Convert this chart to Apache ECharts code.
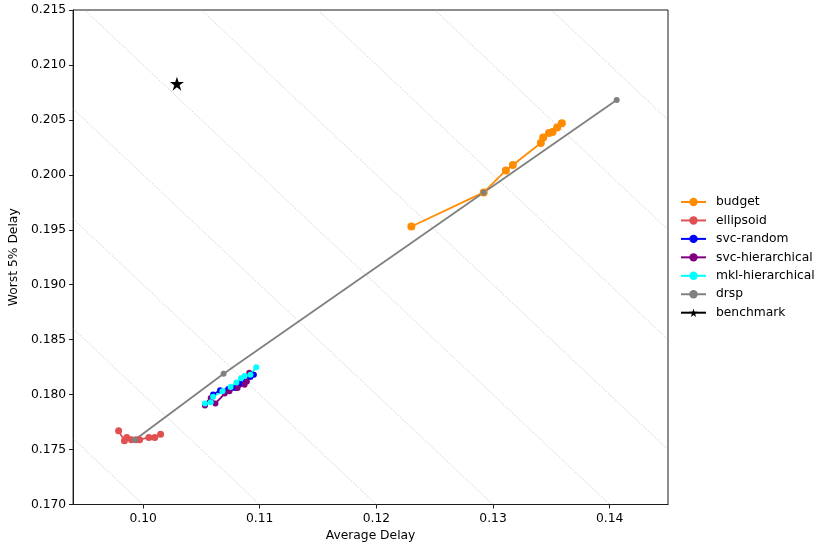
<!DOCTYPE html>
<html>
<head>
<meta charset="utf-8">
<script src="https://cdn.jsdelivr.net/npm/echarts@6/dist/echarts.min.js"></script>
<style>
  html, body { margin: 0; padding: 0; background: #fff; }
  #chart { width: 817px; height: 550px; }
</style>
</head>
<body>
<div id="chart"></div>
<script>
// Trade-off curves: average delay (x) vs worst-5% delay (y) per method.
const budget = [
  [0.1230, 0.1953], [0.1292, 0.1984], [0.1311, 0.2004], [0.1317, 0.2009],
  [0.1341, 0.2029], [0.1343, 0.2034], [0.1348, 0.2038], [0.1351, 0.2039],
  [0.1355, 0.2043], [0.1359, 0.2047]
];
const ellipsoid = [
  [0.0979, 0.1767], [0.0984, 0.1758], [0.0986, 0.1761], [0.0990, 0.1759],
  [0.0994, 0.1759], [0.0997, 0.1759], [0.1005, 0.1761], [0.1010, 0.1761],
  [0.1015, 0.1764]
];
const svcRandom = [
  [0.1053, 0.1791], [0.1060, 0.1800], [0.1066, 0.1804], [0.1073, 0.1805],
  [0.1079, 0.1806], [0.1083, 0.1810], [0.1088, 0.1812], [0.1092, 0.1816],
  [0.1095, 0.1818]
];
const svcHierarchical = [
  [0.1053, 0.1790], [0.1058, 0.1797], [0.1062, 0.1792], [0.1070, 0.1801],
  [0.1074, 0.1803], [0.1081, 0.1806], [0.1087, 0.1809], [0.1089, 0.1812],
  [0.1091, 0.1820]
];
const mklHierarchical = [
  [0.1053, 0.1792], [0.1058, 0.1793], [0.1060, 0.1798], [0.1068, 0.1803],
  [0.1075, 0.1807], [0.1080, 0.1811], [0.1084, 0.1815], [0.1087, 0.1817],
  [0.1092, 0.1818], [0.1097, 0.1825]
];
const drsp = [
  [0.0993, 0.1759], [0.1069, 0.1819], [0.1292, 0.1984], [0.1406, 0.2068]
];
const benchmark = [[0.1029, 0.2083]];

// Iso-lines of constant (average + worst) delay
const isoLevels = [0.26, 0.27, 0.28, 0.29, 0.30, 0.31, 0.32, 0.33, 0.34, 0.35, 0.36, 0.37];

const xTicks = [0.10, 0.11, 0.12, 0.13, 0.14];
const yTicks = [0.170, 0.175, 0.180, 0.185, 0.190, 0.195, 0.200, 0.205, 0.210, 0.215];

const xRange = [0.094, 0.145];
const yRange = [0.170, 0.215];

const FONT = 'DejaVu Sans';
const STAR = 'path://M50,0 L61.2,34.5 L97.6,34.5 L68.2,55.9 L79.4,90.5 L50,69.1 L20.6,90.5 L31.8,55.9 L2.4,34.5 L38.8,34.5 Z';

function curve(name, data, color, size, symbol) {
  return {
    name: name,
    type: 'line',
    data: data,
    symbol: symbol || 'circle',
    symbolSize: size,
    showSymbol: true,
    clip: true,
    animation: false,
    lineStyle: { color: color, width: 1.8 },
    itemStyle: { color: color, borderWidth: 0 },
    emphasis: { disabled: true }
  };
}

const isoSeries = isoLevels.map(function (c) {
  return {
    type: 'line',
    data: [[xRange[0] - 0.01, c - (xRange[0] - 0.01)], [xRange[1] + 0.01, c - (xRange[1] + 0.01)]],
    symbol: 'none',
    silent: true,
    clip: true,
    animation: false,
    z: 1,
    lineStyle: { color: '#b0b0b0', width: 0.7, type: [1, 1.4] },
    emphasis: { disabled: true }
  };
});

const names = ['budget', 'ellipsoid', 'svc-random', 'svc-hierarchical', 'mkl-hierarchical', 'drsp', 'benchmark'];

const chart = echarts.init(document.getElementById('chart'), null, { renderer: 'canvas' });
chart.setOption({
  animation: false,
  backgroundColor: '#ffffff',
  textStyle: { fontFamily: FONT },
  grid: {
    left: 73, right: 149, top: 10, bottom: 45.5,
    show: true, borderColor: '#1a1a1a', borderWidth: 1, backgroundColor: 'transparent'
  },
  legend: {
    data: names,
    orient: 'vertical',
    left: 680,
    top: 195,
    padding: 0,
    itemWidth: 25,
    itemHeight: 10.5,
    itemGap: 4.45,
    textStyle: { fontFamily: FONT, fontSize: 12.3, color: '#000', lineHeight: 14, padding: [0, 0, 0, 5] },
    selectedMode: false
  },
  xAxis: {
    type: 'value',
    min: xRange[0],
    max: xRange[1],
    name: 'Average Delay',
    nameLocation: 'middle',
    nameGap: 25,
    nameTextStyle: { fontFamily: FONT, fontSize: 12.3, color: '#000' },
    splitLine: { show: false },
    axisLine: { show: true, lineStyle: { color: '#1a1a1a', width: 1 } },
    axisTick: { show: true, inside: false, length: 4, lineStyle: { color: '#1a1a1a', width: 1 }, customValues: xTicks },
    axisLabel: {
      customValues: xTicks,
      margin: 8,
      fontFamily: FONT, fontSize: 12.3, color: '#000',
      formatter: function (v) { return v.toFixed(2); }
    }
  },
  yAxis: {
    type: 'value',
    min: yRange[0],
    max: yRange[1],
    interval: 0.005,
    name: 'Worst 5% Delay',
    nameLocation: 'middle',
    nameGap: 49,
    nameRotate: 90,
    nameTextStyle: { fontFamily: FONT, fontSize: 12.3, color: '#000' },
    splitLine: { show: false },
    axisLine: { show: true, lineStyle: { color: '#1a1a1a', width: 1 } },
    axisTick: { show: true, inside: false, length: 4, lineStyle: { color: '#1a1a1a', width: 1 }, customValues: yTicks },
    axisLabel: {
      customValues: yTicks,
      margin: 7,
      fontFamily: FONT, fontSize: 12.3, color: '#000',
      formatter: function (v) { return v.toFixed(3); }
    }
  },
  series: isoSeries.concat([
    curve('budget', budget, '#ff8c00', 8),
    curve('ellipsoid', ellipsoid, '#e05050', 7),
    curve('svc-random', svcRandom, '#0000ff', 6),
    curve('svc-hierarchical', svcHierarchical, '#800080', 6),
    curve('mkl-hierarchical', mklHierarchical, '#00ffff', 6),
    curve('drsp', drsp, '#808080', 6),
    curve('benchmark', benchmark, '#000000', 14, STAR)
  ])
});
</script>
</body>
</html>
